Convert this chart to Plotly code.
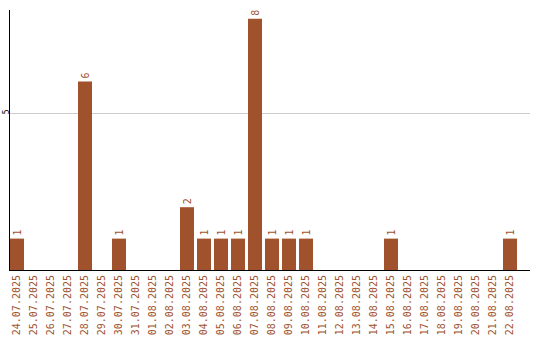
import plotly.graph_objects as go

dates = ["24.07.2025", "25.07.2025", "26.07.2025", "27.07.2025", "28.07.2025",
         "29.07.2025", "30.07.2025", "31.07.2025", "01.08.2025", "02.08.2025",
         "03.08.2025", "04.08.2025", "05.08.2025", "06.08.2025", "07.08.2025",
         "08.08.2025", "09.08.2025", "10.08.2025", "11.08.2025", "12.08.2025",
         "13.08.2025", "14.08.2025", "15.08.2025", "16.08.2025", "17.08.2025",
         "18.08.2025", "19.08.2025", "20.08.2025", "21.08.2025", "22.08.2025"]
counts = [1, 0, 0, 0, 6, 0, 1, 0, 0, 0,
          2, 1, 1, 1, 8, 1, 1, 1, 0, 0,
          0, 0, 1, 0, 0, 0, 0, 0, 0, 1]
labels = [str(v) if v > 0 else "" for v in counts]

color = "#a0522d"
fig = go.Figure(go.Bar(
    x=dates, y=counts, width=14/17,
    marker=dict(color=color, line=dict(width=0)),
    text=labels, textposition="outside", textangle=-90,
    textfont=dict(family="DejaVu Sans Mono", size=10, color=color),
    cliponaxis=False,
))
fig.update_layout(
    width=540, height=340,
    margin=dict(l=10, r=10, t=10, b=70),
    plot_bgcolor="white", paper_bgcolor="white",
    showlegend=False,
    xaxis=dict(type="category", range=[-0.4118, 30.176], automargin=False,
               showline=True, linecolor="black", linewidth=1,
               showgrid=False, ticks="", tickangle=-90,
               tickfont=dict(family="DejaVu Sans Mono", size=10, color=color)),
    yaxis=dict(range=[0, 8.28], tickvals=[5], ticktext=["5"], automargin=False,
               showline=True, linecolor="black", linewidth=1,
               showgrid=True, gridcolor="#cccccc", gridwidth=1,
               zeroline=False, ticks="", tickangle=-90, ticklabelstandoff=-3,
               tickfont=dict(family="DejaVu Sans Mono", size=8, color="black")),
)
fig.write_html("out.html")
